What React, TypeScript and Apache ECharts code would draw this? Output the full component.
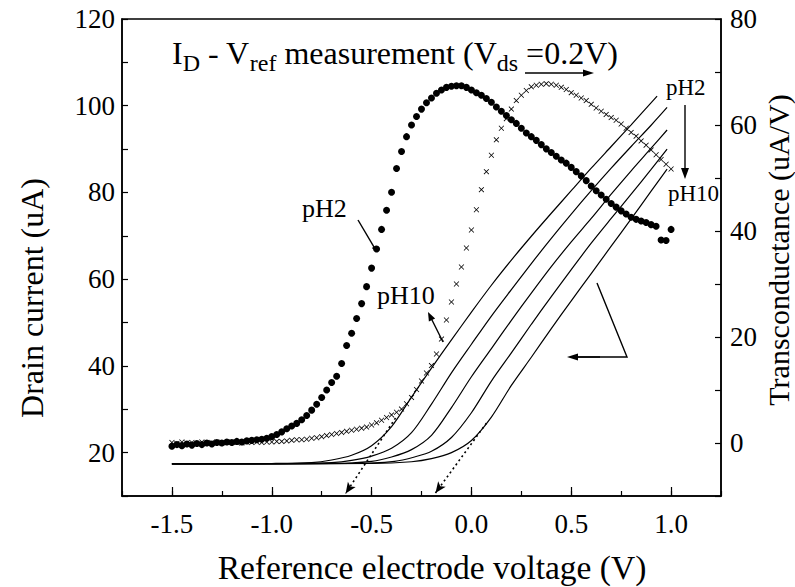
import React, { useEffect, useRef } from "react";
import * as echarts from "echarts";

// Reference electrode voltage (V) for the transconductance samples
const voltage = [
  -1.5, -1.475, -1.45, -1.425, -1.4, -1.375, -1.35, -1.325, -1.3, -1.275, -1.25, -1.225, -1.2, -1.175, -1.15,
  -1.125, -1.1, -1.075, -1.05, -1.025, -1.0, -0.975, -0.95, -0.925, -0.9, -0.875, -0.85, -0.825, -0.8, -0.775,
  -0.75, -0.725, -0.7, -0.675, -0.65, -0.625, -0.6, -0.575, -0.55, -0.525, -0.5, -0.475, -0.45, -0.425, -0.4,
  -0.375, -0.35, -0.325, -0.3, -0.275, -0.25, -0.225, -0.2, -0.175, -0.15, -0.125, -0.1, -0.075, -0.05, -0.025,
  0, 0.025, 0.05, 0.075, 0.1, 0.125, 0.15, 0.175, 0.2, 0.225, 0.25, 0.275, 0.3, 0.325, 0.35, 0.375, 0.4, 0.425,
  0.45, 0.475, 0.5, 0.525, 0.55, 0.575, 0.6, 0.625, 0.65, 0.675, 0.7, 0.725, 0.75, 0.775, 0.8, 0.825, 0.85, 0.875,
  0.9, 0.925, 0.95, 0.975, 1.0,
];

// Transconductance (uA/V), pH2 (filled dots)
const gmPH2 = [
  -0.6, -0.3, -0.5, -0.2, -0.4, -0.1, -0.3, 0.0, -0.2, 0.1, 0.0, 0.2, 0.1, 0.3, 0.2,
  0.4, 0.5, 0.6, 0.7, 0.9, 1.2, 1.6, 2.1, 2.7, 3.2, 3.7, 4.4, 5.2, 6.2, 7.3,
  8.6, 10.0, 11.4, 12.6, 15.0, 18.4, 20.7, 23.5, 26.3, 29.5, 33.0, 36.6, 40.3, 43.9, 47.3,
  51.8, 55.0, 57.8, 60.0, 61.6, 63.0, 64.2, 65.1, 66.0, 66.6, 67.1, 67.3, 67.4, 67.4, 67.1,
  66.6, 66.1, 65.6, 65.0, 64.3, 63.4, 62.6, 61.8, 61.0, 60.3, 59.4, 58.5, 57.8, 57.1, 56.3, 55.5, 54.8, 54.1,
  53.4, 52.8, 52.0, 51.2, 50.4, 49.5, 48.5, 47.6, 46.8, 46.0, 45.2, 44.5, 43.8, 43.2, 42.6, 42.2, 41.9, 41.6,
  41.2, 40.9, 38.3, 38.2, 40.3,
];

// Transconductance (uA/V), pH10 (crosses)
const gmPH10 = [
  0.1, -0.1, 0.2, 0.0, 0.1, -0.1, 0.2, 0.0, 0.1, 0.2, 0.0, 0.1, 0.2, 0.1, 0.0,
  0.2, 0.1, 0.2, 0.1, 0.2, 0.2, 0.3, 0.3, 0.4, 0.5, 0.6, 0.6, 0.7, 0.9, 1.0,
  1.2, 1.4, 1.6, 1.8, 2.0, 2.2, 2.4, 2.6, 2.8, 3.0, 3.4, 3.8, 4.3, 4.8, 5.3,
  5.8, 6.4, 7.4, 8.6, 10.1, 11.7, 13.2, 14.6, 16.8, 19.6, 23.2, 26.6, 30.0, 33.2, 36.8,
  40.2, 44.0, 47.8, 51.2, 54.3, 57.2, 59.4, 61.2, 63.0, 64.6, 65.6, 66.5, 67.2, 67.5, 67.7, 67.8, 67.7, 67.5,
  67.1, 66.7, 66.1, 65.6, 65.1, 64.6, 63.9, 63.2, 62.6, 62.0, 61.4, 60.9, 60.2, 59.4, 58.6, 57.9, 57.0, 56.2,
  55.3, 54.4, 53.5, 52.6, 51.7,
];

// Drain current curves [V, uA], from pH2 (top) to pH10 (bottom)
const idPH2 = [
  [-1.5, 17.4], [-1.0, 17.5], [-0.8, 17.7], [-0.7, 18.3], [-0.6, 19.4], [-0.5, 21.6], [-0.4, 26.0],
  [-0.3, 32.8], [-0.2, 39.5], [-0.1, 46.0], [0.0, 52.4], [0.1, 58.6], [0.2, 64.4], [0.3, 69.9],
  [0.4, 75.2], [0.5, 80.4], [0.6, 85.6], [0.7, 90.6], [0.8, 95.6], [0.93, 102.2],
];
const idPH4 = [
  [-1.5, 17.4], [-0.9, 17.5], [-0.7, 17.7], [-0.6, 18.2], [-0.5, 19.2], [-0.4, 21.0], [-0.3, 24.6],
  [-0.2, 31.2], [-0.1, 38.4], [0.0, 45.0], [0.1, 51.5], [0.2, 57.6], [0.3, 63.6], [0.4, 69.4],
  [0.5, 75.0], [0.6, 80.4], [0.7, 85.6], [0.8, 90.6], [0.9, 95.5], [0.98, 99.6],
];
const idPH6 = [
  [-1.5, 17.4], [-0.7, 17.5], [-0.5, 18.0], [-0.4, 19.0], [-0.3, 20.7], [-0.2, 24.0], [-0.1, 30.4],
  [0.0, 37.5], [0.1, 44.0], [0.2, 50.5], [0.3, 56.8], [0.4, 62.9], [0.5, 68.6], [0.6, 74.0],
  [0.7, 79.6], [0.8, 85.0], [0.9, 90.2], [0.98, 94.4],
];
const idPH8 = [
  [-1.5, 17.4], [-0.6, 17.5], [-0.385, 18.0], [-0.285, 19.0], [-0.2, 20.3], [-0.1, 23.5], [0.0, 29.2],
  [0.1, 36.5], [0.2, 43.0], [0.3, 49.6], [0.4, 56.0], [0.5, 62.2], [0.6, 68.3], [0.7, 74.0],
  [0.8, 79.6], [0.9, 85.3], [0.98, 90.0],
];
const idPH10 = [
  [-1.5, 17.4], [-0.5, 17.5], [-0.3, 17.9], [-0.2, 18.6], [-0.1, 20.0], [0.0, 22.8], [0.1, 28.2],
  [0.2, 35.5], [0.3, 42.0], [0.4, 48.6], [0.5, 55.0], [0.6, 61.3], [0.7, 67.6], [0.8, 73.9],
  [0.9, 80.3], [0.98, 85.4],
];
const drainCurves = [idPH2, idPH4, idPH6, idPH8, idPH10];

// Linear extrapolations (threshold) [V, uA]
const extrapPH2 = [[-0.38, 28.0], [-0.63, 10.6]];
const extrapPH10 = [[0.075, 26.8], [-0.18, 10.7]];

const xMajorTicks = [-1.5, -1.0, -0.5, 0.0, 0.5, 1.0];

const FONT = "Liberation Serif";

function arrow(x1: number, y1: number, x2: number, y2: number, head = 10, half = 3.5): any[] {
  const dx = x2 - x1;
  const dy = y2 - y1;
  const L = Math.hypot(dx, dy);
  const ux = dx / L;
  const uy = dy / L;
  const px = -uy;
  const py = ux;
  const bx = x2 - ux * head;
  const by = y2 - uy * head;
  return [
    { type: "line", silent: true, shape: { x1, y1, x2: bx + ux * 2, y2: by + uy * 2 }, style: { stroke: "#000", lineWidth: 1.4 } },
    {
      type: "polygon",
      silent: true,
      shape: { points: [[x2, y2], [bx + px * half, by + py * half], [bx - px * half, by - py * half]] },
      style: { fill: "#000" },
    },
  ];
}

function label(text: string, x: number, y: number, size: number, extra: any = {}): any {
  const { align, ...rest } = extra;
  return {
    type: "text",
    silent: true,
    x,
    y,
    ...rest,
    style: {
      text,
      fill: "#000",
      fontSize: size,
      fontFamily: FONT,
      textAlign: align || "left",
      textVerticalAlign: "middle",
    },
  };
}

export default function App() {
  const ref = useRef<HTMLDivElement>(null);

  useEffect(() => {
    if (!ref.current) return;
    const chart = echarts.init(ref.current, undefined, { renderer: "svg" });

    const axisLineStyle = { color: "#000", width: 1.5 };
    const tickLineStyle = { color: "#000", width: 1.2 };
    const labelBase = { color: "#000", fontFamily: FONT, fontSize: 27 };

    const lineSeries = drainCurves.map((d) => ({
      type: "line",
      xAxisIndex: 0,
      yAxisIndex: 0,
      data: d,
      smooth: 0.3,
      symbol: "none",
      lineStyle: { color: "#000", width: 1.2 },
      z: 3,
    }));

    const extrapSeries = [
      { d: extrapPH2, rot: 146 },
      { d: extrapPH10, rot: 144 },
    ].map(({ d, rot }) => ({
      type: "line",
      xAxisIndex: 0,
      yAxisIndex: 0,
      data: [
        { value: d[0], symbol: "none" },
        { value: d[1], symbol: "arrow", symbolSize: [7, 11], symbolRotate: rot },
      ],
      symbol: "none",
      showSymbol: true,
      lineStyle: { color: "#000", width: 1.6, type: [2, 3] },
      itemStyle: { color: "#000" },
      z: 3,
    }));

    const crossPath =
      "path://M0,1 L1,0 L5,4 L9,0 L10,1 L6,5 L10,9 L9,10 L5,6 L1,10 L0,9 L4,5 Z";

    const option: any = {
      animation: false,
      backgroundColor: "#fff",
      textStyle: { fontFamily: FONT },
      grid: {
        left: 122,
        right: 74,
        top: 19,
        bottom: 91,
        show: true,
        borderColor: "#000",
        borderWidth: 1.5,
        backgroundColor: "transparent",
        containLabel: false,
        outerBoundsMode: "none",
      },
      xAxis: [
        {
          type: "value",
          min: -1.75,
          max: 1.25,
          interval: 0.25,
          position: "bottom",
          axisLine: { show: true, onZero: false, lineStyle: axisLineStyle },
          axisTick: { show: true, inside: true, length: 5, lineStyle: tickLineStyle },
          axisLabel: {
            ...labelBase,
            margin: 14,
            formatter: (v: number) =>
              xMajorTicks.some((t) => Math.abs(t - v) < 1e-6) ? v.toFixed(1) : "",
          },
          splitLine: { show: false },
        },
        {
          type: "value",
          min: -1.75,
          max: 1.25,
          position: "bottom",
          axisLine: { show: false, onZero: false },
          axisTick: { show: true, inside: true, length: 9, customValues: xMajorTicks, lineStyle: tickLineStyle },
          axisLabel: { show: false },
          splitLine: { show: false },
        },
      ],
      yAxis: [
        {
          type: "value",
          min: 10,
          max: 120,
          interval: 10,
          position: "left",
          axisLine: { show: true, onZero: false, lineStyle: axisLineStyle },
          axisTick: { show: true, inside: true, length: 6, lineStyle: tickLineStyle },
          axisLabel: {
            ...labelBase,
            margin: 7,
            formatter: (v: number) => (Math.abs(v % 20) < 1e-6 ? String(v) : ""),
          },
          splitLine: { show: false },
        },
        {
          type: "value",
          min: -10,
          max: 80,
          interval: 10,
          position: "right",
          axisLine: { show: true, onZero: false, lineStyle: axisLineStyle },
          axisTick: { show: true, inside: true, length: 6, lineStyle: tickLineStyle },
          axisLabel: {
            ...labelBase,
            margin: 9,
            formatter: (v: number) => (Math.abs(v % 20) < 1e-6 ? String(v) : ""),
          },
          splitLine: { show: false },
        },
      ],
      series: [
        ...lineSeries,
        ...extrapSeries,
        {
          type: "scatter",
          name: "gm pH2",
          xAxisIndex: 0,
          yAxisIndex: 1,
          data: voltage.map((v, i) => [v, gmPH2[i]]),
          symbol: "circle",
          symbolSize: 7,
          itemStyle: { color: "#000", opacity: 1 },
          z: 4,
        },
        {
          type: "scatter",
          name: "gm pH10",
          xAxisIndex: 0,
          yAxisIndex: 1,
          data: voltage.map((v, i) => [v, gmPH10[i]]),
          symbol: crossPath,
          symbolSize: 5.5,
          itemStyle: { color: "#000", opacity: 1 },
          z: 4,
        },
      ],
      graphic: [
        {
          type: "text",
          silent: true,
          x: 172,
          y: 53,
          style: {
            text: "{m|I}{s|D}{m| - V}{s|ref}{m| measurement (V}{s|ds}{m| =0.2V)}",
            textAlign: "left",
            textVerticalAlign: "middle",
            fill: "#000",
            fontSize: 32,
            fontFamily: FONT,
            rich: {
              m: { fontSize: 32, fontFamily: FONT, fill: "#000", lineHeight: 38 },
              s: { fontSize: 24, fontFamily: FONT, fill: "#000", lineHeight: 25, padding: [20, 0, 0, 0] },
            },
          },
        },
        ...arrow(525, 73, 594, 73, 11, 3.5),
        label("pH2", 302, 208, 26),
        ...arrow(358, 220, 377, 252, 6, 2.5),
        label("pH10", 377, 295, 26),
        ...arrow(443, 342, 428, 312, 9, 3.5),
        label("pH2", 666, 87, 23),
        ...arrow(685, 105, 685, 179, 11, 4),
        label("pH10", 668, 193, 23),
        {
          type: "polyline",
          silent: true,
          shape: { points: [[597, 283], [627, 357], [578, 357]] },
          style: { stroke: "#000", lineWidth: 1.4, fill: "none" },
        },
        ...arrow(600, 357, 567, 357, 11, 3.5),
        label("Drain current (uA)", 32, 298, 32, { rotation: Math.PI / 2, align: "center" }),
        label("Transconductance (uA/V)", 778, 250, 30, { rotation: Math.PI / 2, align: "center" }),
        label("Reference electrode voltage (V)", 432, 567, 33.5, { align: "center" }),
      ],
    };

    chart.setOption(option);
    return () => chart.dispose();
  }, []);

  return (
    <div
      ref={ref}
      style={{ position: "fixed", left: 0, top: 0, width: 795, height: 587, background: "#fff" }}
    />
  );
}
